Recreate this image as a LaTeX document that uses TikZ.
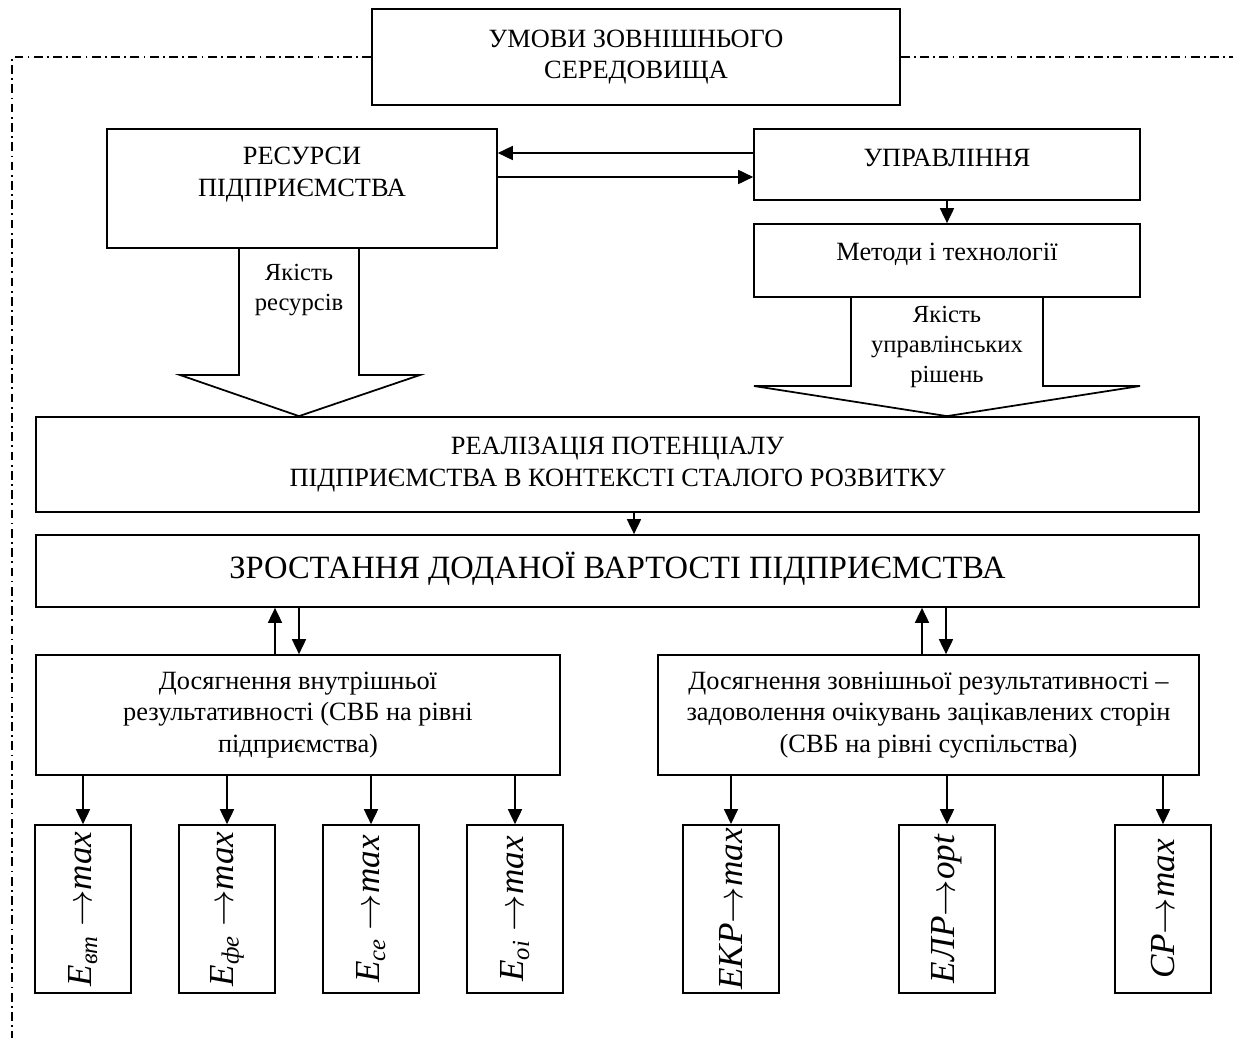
\documentclass[tikz,border=0pt]{standalone}
\usepackage{fontspec}
\setmainfont{Liberation Serif}
\usepackage{graphicx}
\usetikzlibrary{arrows.meta,positioning,calc}
\tikzset{box/.style={draw,line width=1pt,align=center,inner sep=2pt,font=\fontsize{15}{18}\selectfont},
  conn/.style={line width=0.8pt,-{Triangle[length=8.5pt,width=8pt]}},
  blk/.style={line width=1pt,line join=miter},
  border/.style={line width=0.7pt,dash pattern=on 5pt off 2.5pt on 1pt off 2.5pt},
  note/.style={align=center,font=\fontsize{14}{17}\selectfont},
  goal/.style={box,minimum width=1.92cm,minimum height=3.36cm,font=\fontsize{20}{24}\selectfont\itshape}}

\begin{document}
\begin{tikzpicture}[x=0.02cm,y=-0.02cm]
\useasboundingbox (0,0) rectangle (1233,1038);
\node[box,minimum width=10.56cm,minimum height=1.92cm] (env) at (636,57) {УМОВИ ЗОВНІШНЬОГО\\СЕРЕДОВИЩА};
\coordinate (tr) at (1233,57);
\coordinate (bl) at (12,1038);
\draw[border] (env.east) -- (tr);
\draw[border] (env.west) -| (bl);

\node[box,minimum width=7.8cm,minimum height=2.38cm,
  label={[box,draw=none,anchor=north,yshift=-0.3cm]north:РЕСУРСИ\\ПІДПРИЄМСТВА}] (res) at (302,188.5) {};
\node[box,minimum width=7.72cm,minimum height=1.42cm,text depth=8pt] (mgmt) at (947,164.5) {УПРАВЛІННЯ};
\node[box,minimum width=7.72cm,minimum height=1.46cm,text depth=10pt] (tech) at (947,260.5) {Методи і технології};
\draw[conn] (mgmt.west |- 0,153) -- (res.east |- 0,153);
\draw[conn] (res.east |- 0,177) -- (mgmt.west |- 0,177);
\draw[conn] (mgmt.south) -- (tech.north);

\node[box,minimum width=23.26cm,minimum height=1.9cm] (real) at (617.5,464.5) {РЕАЛІЗАЦІЯ ПОТЕНЦІАЛУ\\ПІДПРИЄМСТВА В КОНТЕКСТІ СТАЛОГО РОЗВИТКУ};
\node[box,minimum width=23.26cm,minimum height=1.44cm,font=\fontsize{18.5}{22}\selectfont,text depth=6pt] (grow) at (617.5,571) {ЗРОСТАННЯ ДОДАНОЇ ВАРТОСТІ ПІДПРИЄМСТВА};
\draw[conn] (real.south -| 634,0) -- (grow.north -| 634,0);

% block arrows
\draw[blk] (res.south -| 239,0) -- (239,375) -- (180,375) -- (real.north -| 299,0) -- (420,375) -- (359,375) -- (res.south -| 359,0);
\node[note] (qres) at (299,290) {Якість\\ресурсів};
\draw[blk] (tech.south -| 851,0) -- (851,386) -- (754,386) -- (real.north -| 947,0) -- (1140,386) -- (1043,386) -- (tech.south -| 1043,0);
\node[note] (qmgmt) at (947,347) {Якість\\управлінських\\рішень};

\node[box,minimum width=10.48cm,minimum height=2.4cm] (inner) at (298,715) {Досягнення внутрішньої\\результативності (СВБ на рівні\\підприємства)};
\node[box,minimum width=10.82cm,minimum height=2.4cm] (outer) at (928.5,715) {Досягнення зовнішньої результативності –\\задоволення очікувань зацікавлених сторін\\(СВБ на рівні суспільства)};
\draw[conn] (inner.north -| 275,0) -- (grow.south -| 275,0);
\draw[conn] (grow.south -| 299,0) -- (inner.north -| 299,0);
\draw[conn] (outer.north -| 922,0) -- (grow.south -| 922,0);
\draw[conn] (grow.south -| 946,0) -- (outer.north -| 946,0);

\foreach \x/\n/\t in {83/b1/{E\textsubscript{вт} $\rightarrow$max},227/b2/{E\textsubscript{фе} $\rightarrow$max},
  371/b3/{E\textsubscript{се} $\rightarrow$max},515/b4/{E\textsubscript{оі} $\rightarrow$max}}{
 \node[goal] (\n) at (\x,909) {\rotatebox{90}{\t}};
 \draw[conn] (inner.south -| \n.north) -- (\n.north);}
\foreach \x/\n/\t in {731/b5/{ЕКР$\rightarrow$max},947/b6/{ЕЛР$\rightarrow$opt},1163/b7/{СР$\rightarrow$max}}{
 \node[goal] (\n) at (\x,909) {\rotatebox{90}{\t}};
 \draw[conn] (outer.south -| \n.north) -- (\n.north);}
\end{tikzpicture}
\end{document}
